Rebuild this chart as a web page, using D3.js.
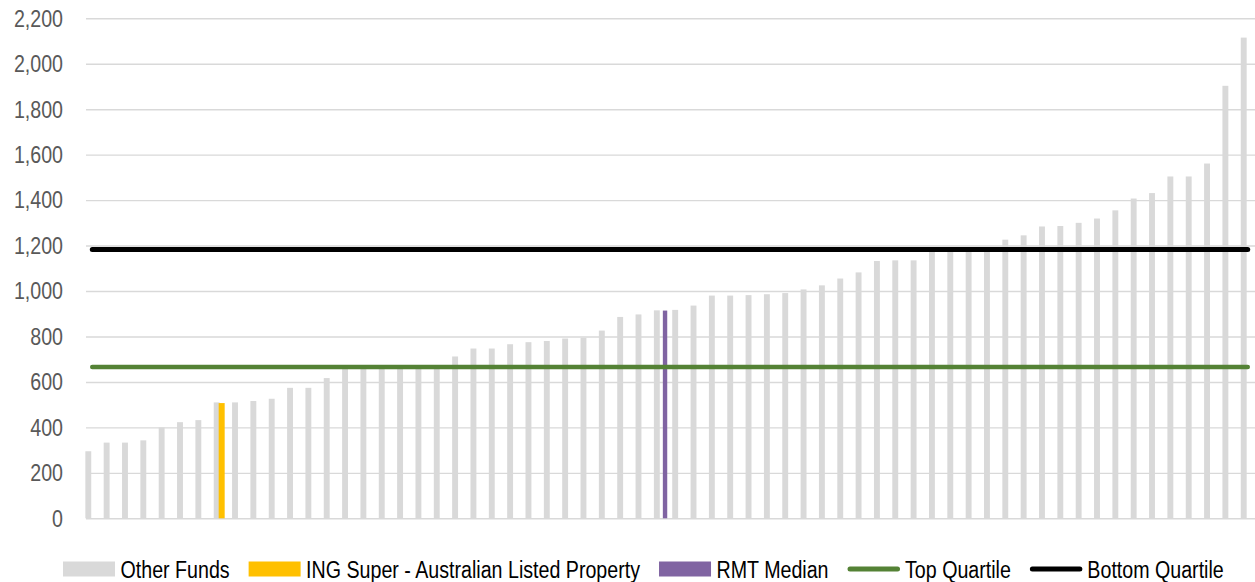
<!DOCTYPE html>
<html>
<head>
<meta charset="utf-8">
<script src="https://cdn.jsdelivr.net/npm/d3@7"></script>
<style>
  html, body { margin: 0; padding: 0; background: #fff; }
  svg { display: block; }
  text { font-family: "Liberation Sans", Arial, sans-serif; }
</style>
</head>
<body>
<svg id="chart" width="1255" height="582"></svg>
<script>
// Fee outcomes for each fund, sorted from lowest to highest
const otherFunds = [
  295, 333, 333, 343, 400, 423, 432, 510, 510, 516,
  526, 574, 574, 617, 658, 662, 666, 668, 670, 672,
  712, 747, 747, 766, 775, 780, 791, 794, 826, 886,
  897, 915, 917, 936, 980, 980, 982, 986, 991, 1007,
  1025, 1055, 1082, 1132, 1135, 1135, 1176, 1179, 1182, 1185,
  1226, 1245, 1284, 1286, 1300, 1319, 1355, 1407, 1431, 1504,
  1504, 1561, 1903, 2115
];
const categories = otherFunds.map((_, i) => i + 1);

// Highlighted funds (category position + value)
const ingCategory = 8;
const ingValue = 507;
const medianCategory = 32;
const medianValue = 914;

// Quartile reference levels
const topQuartile = 666;
const bottomQuartile = 1183;

const yTicks = [0, 200, 400, 600, 800, 1000, 1200, 1400, 1600, 1800, 2000, 2200];

const legendItems = [
  { label: "Other Funds", type: "rect", color: "#D9D9D9" },
  { label: "ING Super - Australian Listed Property", type: "rect", color: "#FFC000" },
  { label: "RMT Median", type: "rect", color: "#8064A2" },
  { label: "Top Quartile", type: "line", color: "#548235" },
  { label: "Bottom Quartile", type: "line", color: "#000000" }
];

// Layout
const W = 1255, H = 582;
const plot = { left: 86, right: 1255, top: 18.3, bottom: 518.3 };
const step = 18.34;
const firstCenter = 92.3;

// Text is drawn tall and condensed
const fontSize = 24.5;
const squeeze = 0.802;

const svg = d3.select("#chart");

const x = d3.scaleBand()
  .domain(categories)
  .range([firstCenter - step / 2, firstCenter + (categories.length - 0.5) * step])
  .padding(0);
const cx = c => x(c) + x.bandwidth() / 2;

const y = d3.scaleLinear().domain([0, 2200]).range([plot.bottom, plot.top]);

// Gridlines and y labels
const yAxis = d3.axisLeft(y)
  .tickValues(yTicks)
  .tickFormat(d3.format(","))
  .tickSize(-(plot.right - plot.left))
  .tickPadding(23);

const gy = svg.append("g")
  .attr("transform", `translate(${plot.left},0)`)
  .call(yAxis);
gy.select(".domain").remove();
gy.selectAll(".tick line").attr("stroke", "#D9D9D9").attr("stroke-width", 1.4);
gy.selectAll(".tick text")
  .attr("fill", "#595959")
  .attr("x", -23 / squeeze)
  .attr("transform", `scale(${squeeze},1)`)
  .style("font-size", fontSize + "px");

// Series bar geometry relative to category centre
const barStyle = {
  other:  { offset: -4.0, width: 5.9 },
  ing:    { offset: 1.0, width: 6.0 },
  median: { offset: 4.2, width: 4.4 }
};

svg.append("g").selectAll("rect")
  .data(otherFunds.map((v, i) => ({ c: categories[i], v })))
  .join("rect")
  .attr("x", d => cx(d.c) + barStyle.other.offset - barStyle.other.width / 2)
  .attr("width", barStyle.other.width)
  .attr("y", d => y(d.v))
  .attr("height", d => y(0) - y(d.v))
  .attr("fill", "#D9D9D9");

svg.append("rect")
  .attr("x", cx(ingCategory) + barStyle.ing.offset - barStyle.ing.width / 2)
  .attr("width", barStyle.ing.width)
  .attr("y", y(ingValue))
  .attr("height", y(0) - y(ingValue))
  .attr("fill", "#FFC000");

svg.append("rect")
  .attr("x", cx(medianCategory) + barStyle.median.offset - barStyle.median.width / 2)
  .attr("width", barStyle.median.width)
  .attr("y", y(medianValue))
  .attr("height", y(0) - y(medianValue))
  .attr("fill", "#8064A2");

// Quartile lines across all categories
const line = d3.line().x(d => cx(d.c)).y(d => y(d.v));
[
  { v: topQuartile, color: "#548235", w: 4.6 },
  { v: bottomQuartile, color: "#000000", w: 5 }
].forEach(q => {
  svg.append("path")
    .datum(categories.map(c => ({ c, v: q.v })))
    .attr("d", line)
    .attr("fill", "none")
    .attr("stroke", q.color)
    .attr("stroke-width", q.w)
    .attr("stroke-linecap", "round");
});

// Legend
const legend = svg.append("g").attr("transform", "translate(0,569)");
let lx = 63;
legendItems.forEach(item => {
  const g = legend.append("g").attr("transform", `translate(${lx},0)`);
  if (item.type === "rect") {
    g.append("rect").attr("x", 0).attr("y", -7.5).attr("width", 52).attr("height", 15).attr("fill", item.color);
  } else {
    g.append("line").attr("x1", 2.5).attr("x2", 50).attr("y1", 0).attr("y2", 0)
      .attr("stroke", item.color).attr("stroke-width", 5).attr("stroke-linecap", "round");
  }
  const t = g.append("text")
    .attr("x", 57.5 / squeeze)
    .attr("y", 0)
    .attr("dy", "0.36em")
    .attr("transform", `scale(${squeeze},1)`)
    .attr("fill", "#000")
    .style("font-size", fontSize + "px")
    .text(item.label);
  lx += 57.5 + t.node().getComputedTextLength() * squeeze + 19;
});
</script>
</body>
</html>
